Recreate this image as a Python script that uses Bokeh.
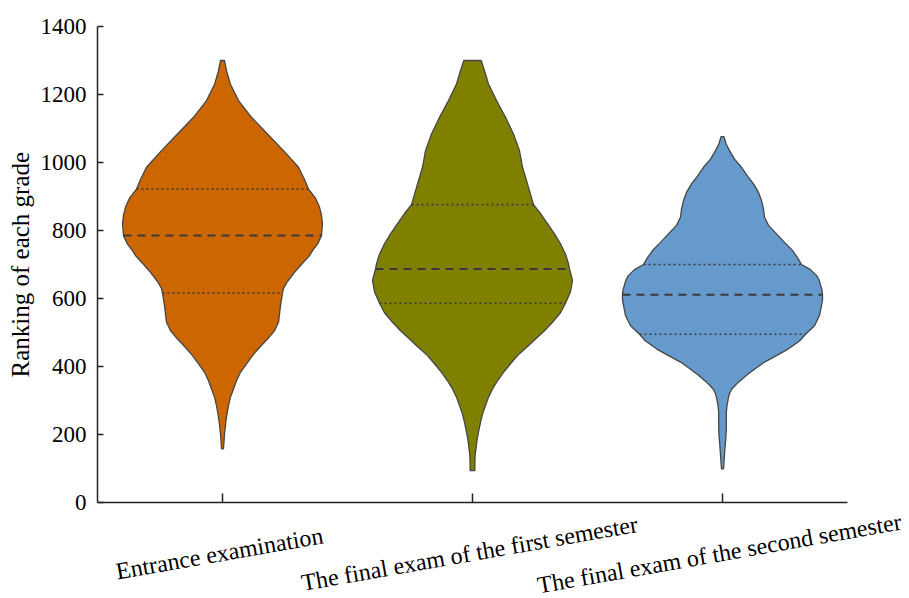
import numpy as np
from bokeh.plotting import figure
from bokeh.models import FixedTicker, Label, Range1d, Title
from bokeh.embed import file_html
from bokeh.resources import INLINE

# Exam categories and their violin colours
categories = [
    "Entrance examination",
    "The final exam of the first semester",
    "The final exam of the second semester",
]
fill_colors = ["#CC6600", "#808000", "#6699CC"]

# Density outline of each exam: ranking level and relative half-width (1 = widest)
entrance_levels = [1300, 1270, 1231, 1182, 1133, 1084, 1035, 986, 950, 922, 895, 869, 845,
                   820, 785, 760, 741, 726, 697, 677, 650, 630, 616, 579, 530, 505, 481,
                   456, 432, 408, 383, 358, 334, 310, 285, 260, 236, 200, 158]
entrance_widths = [0.02, 0.04, 0.078, 0.16, 0.29, 0.45, 0.61, 0.76, 0.82, 0.86, 0.93, 0.97,
                   0.99, 1.0, 0.99, 0.95, 0.9, 0.87, 0.78, 0.72, 0.65, 0.61, 0.6, 0.58, 0.56,
                   0.52, 0.45, 0.37, 0.3, 0.24, 0.18, 0.14, 0.11, 0.08, 0.06, 0.045, 0.033,
                   0.02, 0.01]

first_levels = [1300, 1270, 1231, 1182, 1133, 1084, 1035, 986, 937, 876, 850, 820, 790,
                761, 730, 702, 687, 653, 620, 586, 558, 530, 505, 481, 456, 432, 408, 383,
                358, 334, 310, 285, 260, 236, 210, 187, 160, 138, 115, 94]
first_widths = [0.087, 0.12, 0.16, 0.24, 0.33, 0.41, 0.47, 0.5, 0.55, 0.61, 0.68, 0.75, 0.82,
                0.88, 0.93, 0.96, 0.97, 1.0, 0.98, 0.93, 0.88, 0.8, 0.72, 0.63, 0.54, 0.45,
                0.38, 0.31, 0.25, 0.2, 0.16, 0.13, 0.1, 0.08, 0.062, 0.047, 0.035, 0.026,
                0.024, 0.024]

second_levels = [1076, 1055, 1035, 1010, 986, 960, 937, 912, 888, 863, 839, 815, 790, 765,
                 741, 720, 700, 685, 668, 655, 640, 625, 611, 595, 580, 550, 520, 495, 475,
                 452, 432, 413, 394, 374, 354, 334, 320, 305, 285, 266, 240, 217, 190, 158,
                 130, 99]
second_widths = [0.015, 0.035, 0.07, 0.12, 0.19, 0.25, 0.31, 0.36, 0.39, 0.41, 0.42, 0.46,
                 0.54, 0.62, 0.7, 0.75, 0.79, 0.88, 0.94, 0.965, 0.98, 0.995, 1.0, 1.0, 0.99,
                 0.97, 0.92, 0.83, 0.77, 0.66, 0.54, 0.42, 0.33, 0.24, 0.16, 0.094, 0.07,
                 0.057, 0.045, 0.038, 0.038, 0.038, 0.033, 0.024, 0.018, 0.01]

# Quartiles of each exam: lower quartile, median, upper quartile
entrance_quartiles = [616, 785, 922]
first_quartiles = [586, 687, 876]
second_quartiles = [495, 611, 700]

y_ticks = [0, 200, 400, 600, 800, 1000, 1200, 1400]
y_title = "Ranking of each grade"

profiles = [
    (entrance_levels, entrance_widths, entrance_quartiles),
    (first_levels, first_widths, first_quartiles),
    (second_levels, second_widths, second_quartiles),
]

SERIF = "Liberation Serif"
HALF = 0.4            # half of the violin width in category units
W, H = 909, 598
LEFT, TOP = 97, 26    # page margin left of and above the value axis
PX_X = 250.0          # pixels per category
PX_Y = 0.34           # pixels per ranking unit
Y_MIN, Y_MAX = 0, 1400
X_MIN, X_MAX = 0, len(categories)

# The drawing area runs to the page's right and bottom edges so that the
# tilted category names below the axis are not clipped.
x_lo, x_hi = X_MIN, X_MIN + (W - LEFT) / PX_X
y_hi = Y_MAX
y_lo = Y_MAX - (H - TOP) / PX_Y
axis_bottom_gap = (Y_MIN - y_lo) * PX_Y   # pixels between the category axis and the page bottom

p = figure(
    width=W, height=H,
    x_range=Range1d(x_lo, x_hi), y_range=Range1d(y_lo, y_hi),
    output_backend="svg", toolbar_location=None,
    min_border_left=LEFT, min_border_right=0, min_border_top=TOP, min_border_bottom=0,
)
p.outline_line_color = None
p.xgrid.grid_line_color = None
p.ygrid.grid_line_color = None
p.xaxis.visible = False
p.background_fill_color = "white"
p.border_fill_color = "white"

for i, (levels, widths, quarts) in enumerate(profiles):
    cx = i + 0.5
    lv = np.array(levels, dtype=float)
    wd = np.array(widths, dtype=float) * HALF
    xs = np.concatenate([cx - wd, (cx + wd)[::-1]])
    ys = np.concatenate([lv, lv[::-1]])
    p.patch(xs, ys, fill_color=fill_colors[i], line_color="#454545", line_width=1.3)

    # quartile lines span the outline at their own level
    order = np.argsort(lv)
    for k, q in enumerate(quarts):
        w = np.interp(q, lv[order], wd[order])
        if k == 1:
            p.line([cx - w, cx + w], [q, q], line_color="#3a3a3a", line_width=2.0,
                   line_dash="8 6")
        else:
            p.line([cx - w, cx + w], [q, q], line_color="#3a3a3a", line_width=1.6,
                   line_dash="2 3")

# value axis, limited to the ranking range
yax = p.yaxis[0]
yax.bounds = (Y_MIN, Y_MAX)
yax.ticker = FixedTicker(ticks=y_ticks)
yax.axis_label = None
yax.major_label_text_font = SERIF
yax.major_label_text_font_size = "23px"
yax.major_label_text_color = "black"
yax.major_label_standoff = 11
yax.major_tick_in = 6
yax.major_tick_out = 0
yax.minor_tick_line_color = None
yax.axis_line_width = 1.5
yax.axis_line_color = "#222222"
yax.major_tick_line_color = "#222222"
yax.major_tick_line_width = 1.5

# value-axis title, centred on the ranking range rather than the whole drawing area
label_len = 226
title_offset = axis_bottom_gap + (Y_MAX - Y_MIN) * PX_Y / 2 - label_len / 2
p.add_layout(Title(
    text=y_title, align="left", offset=title_offset, standoff=8,
    text_font=SERIF, text_font_size="25px", text_font_style="normal", text_color="black",
), "left")

# category axis: base line, inward ticks and tilted names
tick_pos = [i + 0.5 for i in range(len(categories))]
tick_len = 9 / PX_Y
p.line([X_MIN, X_MAX], [Y_MIN, Y_MIN], line_color="#222222", line_width=1.5)
p.segment(x0=tick_pos, y0=[Y_MIN] * len(tick_pos), x1=tick_pos,
          y1=[Y_MIN + tick_len] * len(tick_pos), line_color="#222222", line_width=1.5)

for i, name in enumerate(categories):
    p.add_layout(Label(
        x=tick_pos[i], y=Y_MIN, y_offset=-51, x_offset=-3,
        text=name, angle=np.radians(10), text_align="center", text_baseline="middle",
        text_font=SERIF, text_font_size="24px", text_color="black",
    ))

open("out.html", "w").write(file_html(p, INLINE))
